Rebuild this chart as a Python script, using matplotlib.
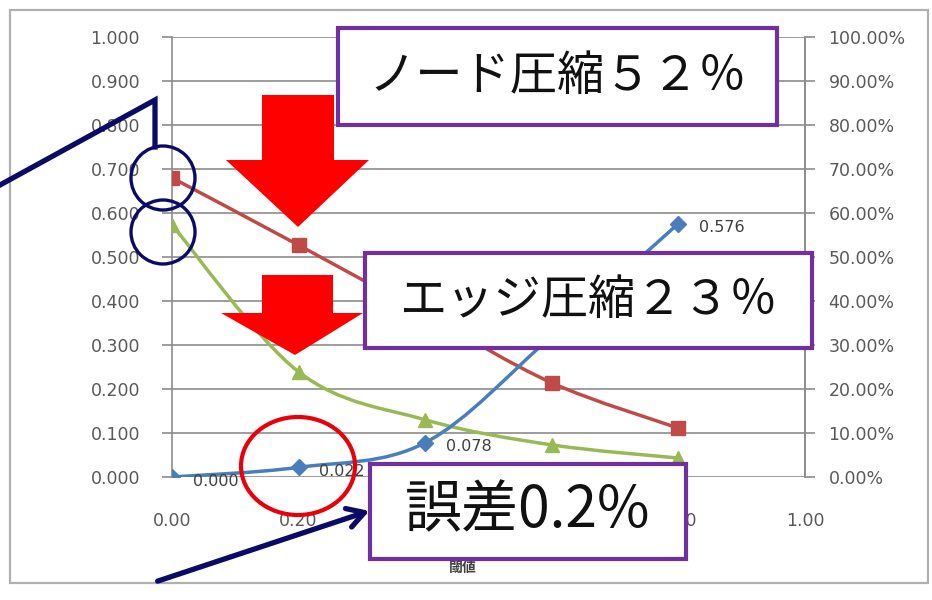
import matplotlib
matplotlib.use("Agg")
import matplotlib.pyplot as plt
from matplotlib.patches import Rectangle, Circle, Ellipse, Polygon, PathPatch, FancyArrowPatch
from matplotlib.path import Path
from matplotlib.transforms import Affine2D
from matplotlib.ticker import FuncFormatter, FixedLocator

plt.rcParams['font.family'] = ['Noto Sans CJK JP', 'DejaVu Sans']
num_font = ['DejaVu Sans']

# threshold values (x axis)
thresholds = [0.0, 0.2, 0.4, 0.6, 0.8]
# error (blue), node ratio (red), edge ratio (green)
error_vals = [0.000, 0.022, 0.078, 0.320, 0.576]
node_vals = [0.680, 0.527, 0.370, 0.214, 0.111]
edge_vals = [0.573, 0.239, 0.130, 0.073, 0.043]

x_ticks = [0.0, 0.2, 0.4, 0.6, 0.8, 1.0]
y_ticks = [0.0, 0.1, 0.2, 0.3, 0.4, 0.5, 0.6, 0.7, 0.8, 0.9, 1.0]
x_title = "閾値"
callouts = ["ノード圧縮５２％", "エッジ圧縮２３％", "誤差0.2%"]

W, H = 932, 600
fig = plt.figure(figsize=(W / 100, H / 100), dpi=100)
fig.patch.set_facecolor("white")
# pixel coordinates (origin top-left) -> figure
px = Affine2D().scale(1 / W, -1 / H).translate(0, 1) + fig.transFigure

# outer chart frame
fig.add_artist(Rectangle((10, 10), 918, 573, transform=px, fill=False,
                         edgecolor="#b0b0b0", lw=1.6, zorder=0))

L, R, T, B = 172, 805, 37, 477
ax = fig.add_axes([L / W, 1 - B / H, (R - L) / W, (B - T) / H])
ax.set_xlim(0, 1)
ax.set_ylim(0, 1)
ax.set_facecolor("none")
for s in ["top", "bottom"]:
    ax.spines[s].set_visible(False)
for s in ["left", "right"]:
    ax.spines[s].set_color("#8c8c8c")
    ax.spines[s].set_linewidth(1.2)
ax.yaxis.set_major_locator(FixedLocator(y_ticks))
ax.xaxis.set_major_locator(FixedLocator(x_ticks))
ax.yaxis.set_major_formatter(FuncFormatter(lambda v, p: f"{v:.3f}"))
ax.xaxis.set_major_formatter(FuncFormatter(lambda v, p: f"{v:.2f}"))
ax.grid(axis="y", color="#8c8c8c", lw=1.2)
ax.tick_params(axis="y", length=7, width=1.2, color="#8c8c8c", pad=16,
               labelsize=12.5, labelcolor="#595959")
ax.tick_params(axis="x", length=0, pad=25, labelsize=12.5, labelcolor="#595959")
for lab in ax.get_xticklabels() + ax.get_yticklabels():
    lab.set_family(num_font)

ax2 = ax.twinx()
ax2.set_ylim(0, 1)
for s in ["top", "bottom", "left"]:
    ax2.spines[s].set_visible(False)
ax2.spines["right"].set_color("#8c8c8c")
ax2.spines["right"].set_linewidth(1.2)
ax2.yaxis.set_major_locator(FixedLocator(y_ticks))
ax2.yaxis.set_major_formatter(FuncFormatter(lambda v, p: f"{v * 100:.2f}%"))
ax2.tick_params(axis="y", length=7, width=1.2, color="#8c8c8c", pad=10,
                labelsize=12.5, labelcolor="#595959")
for lab in ax2.get_yticklabels():
    lab.set_family(num_font)


def smooth_path(xs, ys):
    # Catmull-Rom style cubic Bezier through the points
    pts = list(zip(xs, ys))
    n = len(pts)
    verts = [pts[0]]
    codes = [Path.MOVETO]
    for i in range(n - 1):
        p0 = pts[i - 1] if i > 0 else pts[i]
        p1 = pts[i]
        p2 = pts[i + 1]
        p3 = pts[i + 2] if i + 2 < n else pts[i + 1]
        c1 = (p1[0] + (p2[0] - p0[0]) / 6, p1[1] + (p2[1] - p0[1]) / 6)
        c2 = (p2[0] - (p3[0] - p1[0]) / 6, p2[1] - (p3[1] - p1[1]) / 6)
        verts += [c1, c2, p2]
        codes += [Path.CURVE4] * 3
    return Path(verts, codes)


series = [
    (node_vals, "#be4b48", "s", 10.5),
    (edge_vals, "#98b954", "^", 10.5),
    (error_vals, "#4a7ebb", "D", 8.5),
]
for vals, col, mk, ms in series:
    ax.add_patch(PathPatch(smooth_path(thresholds, vals), fill=False,
                           edgecolor=col, lw=2.5, zorder=3))
    ax.plot(thresholds, vals, linestyle="none", marker=mk, ms=ms,
            color=col, zorder=4)

for xv, yv in zip(thresholds, error_vals):
    ax.annotate(f"{yv:.3f}", (xv, yv), xytext=(15, -3),
                textcoords="offset points", ha="left", va="center",
                fontsize=11.5, color="#404040", family=num_font, zorder=5)

fig.text(463, 568, x_title, transform=px, ha="center", va="center",
         fontsize=10, fontweight="bold", color="#404040")

# red down arrows
red = "#ff0000"
for (sx0, sx1, top, hb, hx0, hx1, tipx, tipy) in [
        (262, 334, 95, 160, 226, 369, 298, 227),
        (262, 333, 275, 313, 221, 363, 295, 355)]:
    fig.add_artist(Polygon([(sx0, top), (sx1, top), (sx1, hb), (hx1, hb),
                            (tipx, tipy), (hx0, hb), (sx0, hb)],
                           closed=True, transform=px, facecolor=red,
                           edgecolor="none", zorder=5))

navy = "#0b0b66"
# pointer line and circles at the left axis
fig.add_artist(plt.Line2D([0, 155, 155], [185, 100, 147], transform=px,
                          color=navy, lw=3.8, solid_joinstyle="miter", zorder=6))
for cy in (178, 232):
    fig.add_artist(Circle((163, cy), 32, transform=px, fill=False,
                          edgecolor=navy, lw=2.4, zorder=6))

# red ring around the 0.20 point
fig.add_artist(Ellipse((298, 466), 114, 98, transform=px, fill=False,
                       edgecolor="#e8000b", lw=3.0, zorder=6))

# arrow pointing at the error callout
fig.add_artist(FancyArrowPatch((155, 582), (372, 510), transform=px,
                               arrowstyle="->,head_length=12,head_width=7",
                               mutation_scale=1, color=navy, lw=3.8,
                               zorder=6))

# callout boxes
purple = "#7030a0"
boxes = [(338, 28, 777, 125, 34), (365, 253, 812, 348, 34), (370, 464, 686, 559, 41)]
for (x0, y0, x1, y1, fs), txt in zip(boxes, callouts):
    fig.add_artist(Rectangle((x0, y0), x1 - x0, y1 - y0, transform=px,
                             facecolor="white", edgecolor=purple, lw=3.0,
                             zorder=7))
    fig.text((x0 + x1) / 2, (y0 + y1) / 2, txt, transform=px, ha="center",
             va="center", fontsize=fs, color="#111111", zorder=8)

fig.savefig("out.png", dpi=100)
